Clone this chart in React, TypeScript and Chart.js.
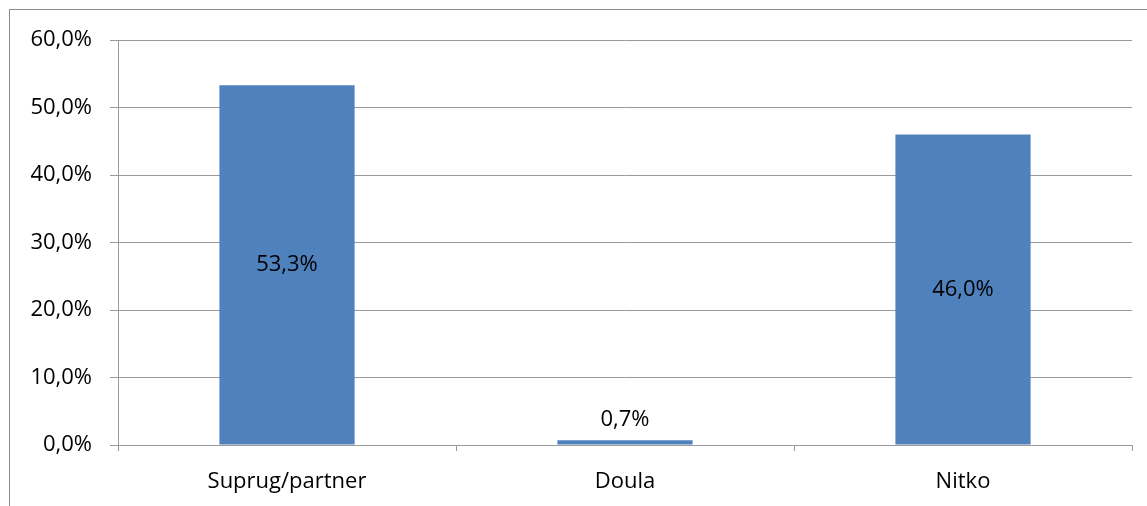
import React, { useEffect, useRef } from "react";
import { Chart, registerables } from "chart.js";

Chart.register(...registerables);

const categories = ["Suprug/partner", "Doula", "Nitko"];
const values = [53.3, 0.7, 46.0];
const yTicks = [0, 10, 20, 30, 40, 50, 60];

const FONT = "'Open Sans', sans-serif";
const fmt = (v: number) => v.toFixed(1).replace(".", ",") + "%";

const framePlugin = {
  id: "frame",
  beforeDraw(chart: any) {
    const ctx = chart.ctx;
    ctx.save();
    ctx.fillStyle = "#ffffff";
    ctx.fillRect(0, 0, chart.width, chart.height);
    ctx.strokeStyle = "#898989";
    ctx.lineWidth = 1;
    ctx.strokeRect(9.5, 9.5, chart.width + 20, chart.height + 20);
    ctx.restore();
  },
};

const labelPlugin = {
  id: "barLabels",
  afterDatasetsDraw(chart: any) {
    const ctx = chart.ctx;
    const meta = chart.getDatasetMeta(0);
    ctx.save();
    ctx.font = `22px ${FONT}`;
    ctx.fillStyle = "#000000";
    ctx.textAlign = "center";
    ctx.textBaseline = "middle";
    meta.data.forEach((bar: any, i: number) => {
      const v = values[i];
      const h = bar.base - bar.y;
      let y;
      if (h > 40) y = (bar.y + bar.base) / 2;
      else y = bar.y - 21;
      ctx.fillText(fmt(v), bar.x, y);
    });
    ctx.restore();
  },
};

export default function App() {
  const ref = useRef<HTMLCanvasElement>(null);
  useEffect(() => {
    document.body.style.margin = "0";
    const chart = new Chart(ref.current!, {
      type: "bar",
      data: {
        labels: categories,
        datasets: [
          {
            data: values,
            backgroundColor: "#4F81BD",
            barPercentage: 0.4,
            categoryPercentage: 1,
          },
        ],
      },
      options: {
        animation: false,
        responsive: false,
        devicePixelRatio: 1,
        layout: { padding: { left: 0, top: 40, right: 15, bottom: 0 } },
        plugins: { legend: { display: false }, tooltip: { enabled: false } },
        scales: {
          x: {
            grid: {
              offset: true,
              drawOnChartArea: false,
              tickLength: 6,
              color: "#9a9a9a",
            },
            border: { color: "#9a9a9a" },
            ticks: {
              color: "#000",
              font: { family: FONT, size: 22 },
              padding: 18,
            },
            afterFit(scale: any) {
              scale.height = 61;
            },
          },
          y: {
            min: 0,
            max: 60,
            afterBuildTicks(scale: any) {
              scale.ticks = yTicks.map((v) => ({ value: v }));
            },
            grid: { color: "#9a9a9a", tickLength: 8 },
            border: { color: "#9a9a9a" },
            ticks: {
              color: "#000",
              font: { family: FONT, size: 22 },
              padding: 18,
              callback: (v: any) => fmt(Number(v)),
            },
            afterFit(scale: any) {
              scale.width = 118;
            },
          },
        },
      },
      plugins: [framePlugin, labelPlugin],
    });
    return () => chart.destroy();
  }, []);
  return (
    <div style={{ width: 1147, height: 506, overflow: "hidden" }}>
      <canvas ref={ref} width={1147} height={506} style={{ display: "block" }} />
    </div>
  );
}
